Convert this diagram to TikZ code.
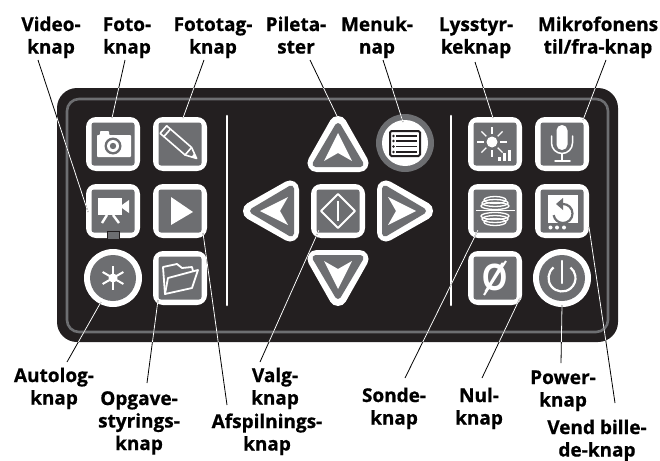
\documentclass[tikz,border=0pt]{standalone}
\usepackage{fontspec}
\setmainfont{Open Sans}[BoldFont={Open Sans Bold},BoldFeatures={FakeBold=0.7}]
\newfontfamily\zerofont{Liberation Sans}[BoldFont={Liberation Sans Bold}]
\definecolor{panelc}{HTML}{231F20}
\definecolor{grayc}{HTML}{6D6E71}
\tikzset{
  btnouter/.style={fill=white,draw=none,rounded corners=10pt,minimum size=54pt,inner sep=0pt},
  btninner/.style={fill=grayc,draw=none,rounded corners=2.5pt,minimum size=43pt,inner sep=0pt},
  circouter/.style={circle,fill=white,draw=none,minimum size=58pt,inner sep=0pt},
  circinner/.style={circle,fill=grayc,draw=none,minimum size=46pt,inner sep=0pt},
  lab/.style={anchor=base,inner sep=0pt,font=\bfseries\fontsize{19}{22.5}\selectfont},
  ico/.style={draw=white,line width=1.5pt,line join=round,line cap=round},
  icof/.style={fill=white,draw=none},
  lead/.style={line width=0.8pt},
  sep/.style={white,line width=2.6pt,line cap=round},
}
\newcommand{\lbl}[5]{\node[lab] (#1) at (#2,#3) {\begin{tabular}[t]{@{}c@{}}#4\end{tabular}};\coordinate (#1-end) at #5;}
\newcommand{\btn}[3]{\node[btnouter] (#1) at (#2,#3) {};\node[btninner] (#1-in) at (#2,#3) {};}
\newcommand{\tri}[1]{\begin{scope}[shift={(338,211)},rotate=#1]
 \fill[white,draw=white,line width=18pt,line join=round] (0,-86)--(21.5,-48)--(-21.5,-48)--cycle;
 \fill[grayc,draw=grayc,line width=6pt,line join=round] (0,-85)--(22.5,-47)--(-22.5,-47)--cycle;
 \fill[white] (0,-78)--(14,-50)--(0,-58)--(-14,-50)--cycle;
\end{scope}}
\begin{document}
\begin{tikzpicture}[x=1pt,y=-1pt]
\useasboundingbox (0,0) rectangle (660,460);
\fill[white] (0,0) rectangle (660,460);
% panel
\path[fill=panelc,rounded corners=20pt] (57,88) rectangle (618,342);
\draw[grayc,line width=2.6pt,rounded corners=12pt] (67,99) rectangle (608,332);
\draw[sep] (227,116)--(227,305);
\draw[sep] (451,116)--(451,305);
% buttons
\btn{foto}{113}{144}
\btn{tag}{180}{144}
\btn{video}{113}{211}
\btn{play}{180}{211}
\btn{folder}{180}{278}
\btn{valg}{338}{211}
\btn{lys}{495}{144}
\btn{mik}{562}{144}
\btn{sonde}{495}{211}
\btn{vend}{562}{211}
\btn{nul}{495}{278}
\node[circouter] (auto) at (113,278) {};
\node[circinner] (auto-in) at (113,278) {};
\node[circouter] (power) at (562,278) {};
\node[circinner] (power-in) at (562,278) {};
\node[circle,fill=grayc,minimum size=58pt,inner sep=0pt] (menu) at (405,143) {};
\node[circle,fill=white,minimum size=46pt,inner sep=0pt] (menu-in) at (405,143) {};
\tri{0}\tri{90}\tri{180}\tri{270}
% camera
\path[icof,rounded corners=0.8pt] (97,135)--(100,135)--(100,131)--(109,131)--(109,135)--(131,135)--(131,157)--(97,157)--cycle;
\fill[grayc] (113,146) circle (8.5);
\fill[white] (113,146) circle (6);
\fill[grayc] (113,146) circle (3.2);
% pencil
\begin{scope}[shift={(180,144)},rotate=-41]
\draw[ico,line width=1.6pt] (-22,-5)--(11,-5)--(22,0)--(11,5)--(-22,5)--cycle;
\draw[ico,line width=1.6pt] (-17,-5)--(-17,5) (11,-5)--(11,5);
\fill[white] (17,-2.2)--(22,0)--(17,2.2)--cycle;
\end{scope}
% video camera
\path[icof] (98,198) rectangle (122,215);
\path[icof] (122,205)--(129,200)--(129,213)--(122,208)--cycle;
\draw[ico,line width=2.4pt,line cap=butt] (107,215)--(102,223) (113,215)--(119,223);
\draw[fill=grayc,draw=panelc,line width=0.7pt] (107,231) rectangle (119,239);
% play
\path[icof] (171,197)--(193,212)--(171,225)--cycle;
% asterisk
\foreach \a in {-90,-30,30}{\draw[white,line width=2pt] (113,278)+(\a:12)--+(\a+180:12);}
\fill[white] (113,278) circle (4.5);
% folder
\draw[ico,line width=1.8pt] (165,294)--(163,267)--(177,264)--(182,268)--(192,267)--(193,271);
\draw[ico,line width=1.8pt,fill=grayc] (168,278)--(198,270)--(192,288)--(165,294)--cycle;
% select diamond
\draw[ico,line width=2pt] (338,194)--(355,211)--(338,228)--(321,211)--cycle;
\draw[white,line width=2.4pt] (338,201)--(338,221);
% menu icon
\draw[panelc,line width=2pt,rounded corners=1.5pt] (390,131) rectangle (420,156);
\foreach \y in {136,141,146.5,152}{
  \draw[panelc,line width=1.6pt] (396,\y)--(417,\y);
  \fill[panelc] (393.5,\y) circle (1.4);
}
% sun
\foreach \a in {0,45,...,315}{\draw[white,line width=1.3pt] (492,142)+(\a:8)--+(\a:15);}
\fill[white] (492,142) circle (5.5);
\fill[white] (498,157) rectangle (501,161);
\fill[white] (503,153) rectangle (506,161);
\fill[white] (508,150) rectangle (511,161);
% mic
\path[icof,rounded corners=5.4pt] (556.5,125) rectangle (567.5,150);
\draw[ico] (551.5,136)--(551.5,143) arc[start angle=180,end angle=0,radius=10.5]--(572.5,136);
\draw[ico] (562,153.5)--(562,161) (555,161)--(570,161);
% probe coil
\foreach \yy/\rr in {200/11,203/13,206/14,216/14,219/13,222/11}{\draw[white,line width=1.3pt] (495,\yy) ellipse [x radius=\rr,y radius=3.5];}
\draw[white,line width=1.4pt] (476,210.5)--(515,210.5);
% flip
\path[icof] (548,195) rectangle (578,223);
\draw[grayc,line width=2.2pt] (563,204) arc[start angle=-90,end angle=170,radius=9.5];
\fill[grayc] (556,204)--(563,198)--(563,210)--cycle;
\foreach \x in {550.5,557,564}{\fill[white] (\x,227.5) circle (2);}
% zero
\node[inner sep=0pt,text=white,xscale=0.85,font=\zerofont\bfseries\fontsize{38}{38}\selectfont] (zero) at (495,278) {Ø};
\draw[white,line width=2pt] (484,295)--(506,261);
% power
\draw[white,line width=2.2pt] (553.5,267.5) arc[start angle=-129,end angle=-411,radius=13.5];
\draw[white,line width=2.2pt,line cap=round] (562,261)--(562,283);
% labels
\lbl{l-video}{51}{31}{Video-\\knap}{(38,60)}
\lbl{l-foto}{127}{31}{Foto-\\knap}{(125,60)}
\lbl{l-tag}{213}{31}{Fototag-\\knap}{(204,60)}
\lbl{l-pil}{296}{31}{Pileta-\\ster}{(310,60)}
\lbl{l-menu}{377}{31}{Menuk-\\nap}{(383,60)}
\lbl{l-lys}{476}{31}{Lysstyr-\\keknap}{(475,62)}
\lbl{l-mik}{598}{31}{Mikrofonens\\til/fra-knap}{(606,60)}
\lbl{l-auto}{54}{382}{Autolog-\\knap}{(67,362)}
\lbl{l-opg}{139}{405}{Opgave-\\styrings-\\knap}{(147,383)}
\lbl{l-afs}{267}{428}{Afspilnings-\\knap}{(227,405)}
\lbl{l-valg}{275}{382}{Valg-\\knap}{(260,362)}
\lbl{l-sonde}{394}{402}{Sonde-\\knap}{(405,378)}
\lbl{l-nul}{479}{402}{Nul-\\knap}{(482,378)}
\lbl{l-pow}{563}{384}{Power-\\knap}{(561,363)}
\lbl{l-vend}{597}{434}{Vend bille-\\de-knap}{(615,403)}
% button-side ends
\coordinate (e-video) at (88,212);
\coordinate (e-foto) at (112,118);
\coordinate (e-tag) at (183,118);
\coordinate (e-pil) at (337,116);
\coordinate (e-menu) at (403,122);
\coordinate (e-lys) at (493,118);
\coordinate (e-mik) at (583,120);
\coordinate (e-auto) at (101,302);
\coordinate (e-opg) at (158,300);
\coordinate (e-afs) at (203,233);
\coordinate (e-valg) at (319,230);
\coordinate (e-sonde) at (478,230);
\coordinate (e-nul) at (520,298);
\coordinate (e-pow) at (562,305);
\coordinate (e-vend) at (589,227);
\foreach \a/\b in {l-video/video,l-foto/foto,l-tag/tag,l-pil/pil,l-menu/menu,l-lys/lys,l-mik/mik,l-auto/auto,l-opg/opg,l-afs/afs,l-valg/valg,l-sonde/sonde,l-nul/nul,l-pow/pow,l-vend/vend}{
  \draw[lead,black] (\a-end)--(e-\b);
}
\begin{scope}
\clip[rounded corners=20pt] (57,88) rectangle (618,342);
\foreach \a/\b in {l-video/video,l-foto/foto,l-tag/tag,l-pil/pil,l-menu/menu,l-lys/lys,l-mik/mik,l-auto/auto,l-opg/opg,l-afs/afs,l-valg/valg,l-sonde/sonde,l-nul/nul,l-pow/pow,l-vend/vend}{
  \draw[lead,white] (\a-end)--(e-\b);
}
\end{scope}
\end{tikzpicture}
\end{document}
